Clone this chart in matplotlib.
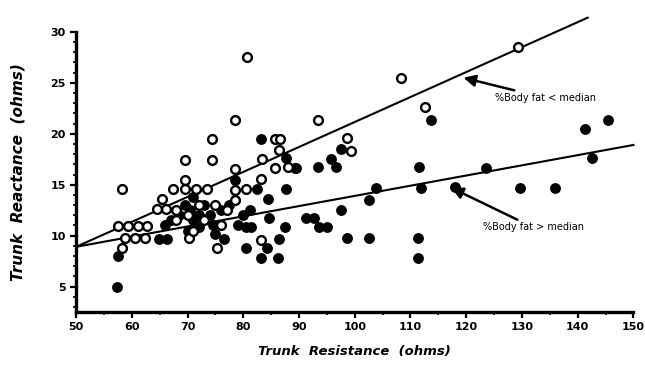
import matplotlib
matplotlib.use("Agg")
import matplotlib.pyplot as plt
from matplotlib.ticker import MultipleLocator

# trunk resistance / reactance, % body fat below median (open circles)
low_x = [80.7, 108.3, 129.3, 78.6, 93.4, 112.6, 74.3, 74.3, 85.7, 86.6, 86.4, 83.4,
         78.6, 85.7, 98.6, 99.4, 83.2, 69.5, 69.5, 58.2, 67.3, 69.5, 71.6, 73.4,
         65.4, 64.5, 66.2, 57.5, 59.3, 61.1, 62.7, 58.7, 60.5, 62.3, 70.2, 58.3,
         75.3, 83.2, 78.6, 78.6, 80.5, 68.0, 70.0, 72.0, 75.0, 77.0, 73.0, 76.0,
         68.0, 71.0, 88.0]
low_y = [27.5, 25.5, 28.5, 21.4, 21.4, 22.6, 19.5, 17.4, 19.5, 19.5, 18.4, 17.5,
         16.5, 16.6, 19.6, 18.3, 15.6, 17.4, 15.5, 14.6, 14.6, 14.6, 14.6, 14.6,
         13.6, 12.6, 12.6, 10.9, 10.9, 10.9, 10.9, 9.8, 9.8, 9.8, 9.8, 8.8,
         8.8, 9.6, 14.5, 13.5, 14.6, 12.5, 12.0, 13.0, 13.0, 12.5, 11.5, 11.0,
         11.5, 10.5, 16.7]

# % body fat above median (filled circles)
high_x = [83.2, 87.6, 89.5, 89.3, 93.4, 95.7, 96.6, 97.6, 113.7, 145.4, 141.4, 111.5,
          123.6, 142.5, 111.8, 118.0, 129.6, 135.9, 111.4, 111.4, 87.7, 103.8, 102.5,
          84.5, 81.2, 97.5, 91.2, 92.7, 84.6, 93.6, 95.0, 80.5, 81.4, 87.5, 76.6,
          86.4, 98.6, 102.5, 80.5, 84.3, 83.2, 86.3, 57.5, 57.3, 64.8, 66.3, 78.6,
          82.5, 70.9, 68.5, 69.5, 70.5, 71.0, 72.0, 73.0, 74.0, 70.0, 72.0, 74.5,
          76.0, 77.5, 67.0, 66.0, 75.0, 79.0, 80.0]
high_y = [19.5, 17.6, 16.6, 16.6, 16.7, 17.5, 16.7, 18.5, 21.4, 21.4, 20.5, 16.7,
          16.6, 17.6, 14.7, 14.8, 14.7, 14.7, 9.8, 7.8, 14.6, 14.7, 13.5,
          13.6, 12.5, 12.5, 11.7, 11.7, 11.7, 10.8, 10.8, 10.8, 10.8, 10.8, 9.7,
          9.7, 9.8, 9.8, 8.8, 8.8, 7.8, 7.8, 8.0, 5.0, 9.7, 9.7, 15.5,
          14.6, 13.8, 12.0, 13.0, 12.5, 11.5, 12.0, 13.0, 12.0, 10.5, 10.8, 11.0,
          12.5, 13.0, 11.5, 11.0, 10.2, 11.0, 12.0]

# regression lines (end points)
line_low_x = [50, 141.8]
line_low_y = [8.9, 31.4]
line_high_x = [50, 150]
line_high_y = [8.9, 18.9]

fig = plt.figure(figsize=(6.45, 3.71), dpi=100)
ax = fig.add_axes([0.118, 0.159, 0.864, 0.755])

ax.plot(line_low_x, line_low_y, color="black", lw=1.5, clip_on=False, zorder=2)
ax.plot(line_high_x, line_high_y, color="black", lw=1.5, clip_on=False, zorder=2)

ax.scatter(high_x, high_y, s=46, c="black", edgecolors="black", zorder=3, clip_on=False)
ax.scatter(low_x, low_y, s=40, c="white", edgecolors="black", linewidths=1.7,
           zorder=4, clip_on=False)

arrow = dict(arrowstyle="-|>,head_length=0.7,head_width=0.35", color="black", lw=1.8,
             shrinkA=0, shrinkB=0, mutation_scale=10)
ax.annotate("%Body fat < median", xy=(119.5, 25.5), xytext=(125.2, 23.5),
            fontsize=7, va="center", ha="left", arrowprops=arrow)
ax.annotate("%Body fat > median", xy=(117.3, 14.7), xytext=(123.0, 10.8),
            fontsize=7, va="center", ha="left", arrowprops=arrow)

ax.set_xlim(50, 150)
ax.set_ylim(2.5, 30)
ax.xaxis.set_major_locator(MultipleLocator(10))
ax.xaxis.set_minor_locator(MultipleLocator(5))
ax.set_yticks([5, 10, 15, 20, 25, 30])
ax.yaxis.set_minor_locator(MultipleLocator(1))

for s in ["top", "right"]:
    ax.spines[s].set_visible(False)
for s in ["left", "bottom"]:
    ax.spines[s].set_linewidth(2.4)

ax.tick_params(which="major", direction="out", length=4, width=1.6, labelsize=8)
ax.tick_params(which="minor", direction="out", length=2.5, width=1.2)
for lab in ax.get_xticklabels() + ax.get_yticklabels():
    lab.set_fontweight("bold")

ax.set_xlabel("Trunk  Resistance  (ohms)", fontsize=9.5, fontweight="bold", style="italic",
              labelpad=9)
ax.set_ylabel("Trunk  Reactance  (ohms)", fontsize=11, fontweight="bold", style="italic",
              labelpad=18)

fig.savefig("out.png", dpi=100)
